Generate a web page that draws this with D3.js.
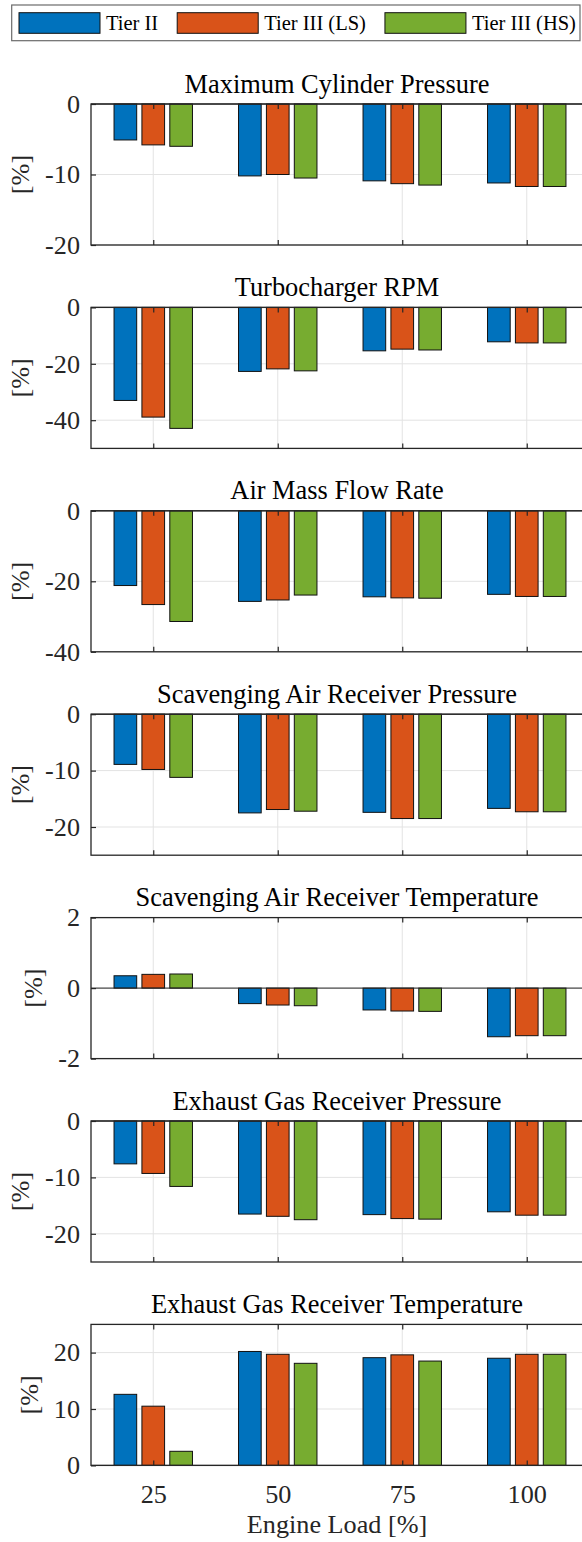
<!DOCTYPE html>
<html>
<head>
<meta charset="utf-8">
<script src="https://cdn.jsdelivr.net/npm/d3@7"></script>
<style>
  html, body { margin: 0; padding: 0; background: #fff; }
  svg { display: block; }
</style>
</head>
<body>
<svg id="chart" width="582" height="1542"></svg>
<script>
// ---------------- DATA ----------------
const engineLoads = [25, 50, 75, 100];
const seriesNames = ["Tier II", "Tier III (LS)", "Tier III (HS)"];
const seriesColors = ["#0072BD", "#D95319", "#77AC30"];
const panelTitles = [
  "Maximum Cylinder Pressure",
  "Turbocharger RPM",
  "Air Mass Flow Rate",
  "Scavenging Air Receiver Pressure",
  "Scavenging Air Receiver Temperature",
  "Exhaust Gas Receiver Pressure",
  "Exhaust Gas Receiver Temperature"
];
// each: [Tier II, Tier III (LS), Tier III (HS)] over engine loads 25,50,75,100
const maxCylinderPressure = [
  [-5.1, -10.2, -10.9, -11.2],
  [-5.8, -10.0, -11.3, -11.7],
  [-6.0, -10.5, -11.5, -11.7]
];
const turbochargerRPM = [
  [-33.0, -22.7, -15.4, -12.2],
  [-38.9, -21.8, -14.8, -12.6],
  [-42.9, -22.5, -15.1, -12.6]
];
const airMassFlowRate = [
  [-21.2, -25.7, -24.4, -23.7],
  [-26.6, -25.3, -24.7, -24.3],
  [-31.4, -23.9, -24.8, -24.3]
];
const scavAirPressure = [
  [-8.9, -17.5, -17.4, -16.7],
  [-9.8, -16.9, -18.5, -17.3],
  [-11.2, -17.2, -18.5, -17.3]
];
const scavAirTemperature = [
  [0.35, -0.44, -0.62, -1.38],
  [0.39, -0.48, -0.65, -1.35],
  [0.40, -0.50, -0.66, -1.35]
];
const exhaustGasPressure = [
  [-7.6, -16.5, -16.6, -16.1],
  [-9.3, -16.9, -17.3, -16.7],
  [-11.6, -17.5, -17.4, -16.7]
];
const exhaustGasTemperature = [
  [12.6, 20.2, 19.1, 19.0],
  [10.5, 19.7, 19.6, 19.7],
  [2.5, 18.1, 18.5, 19.7]
];
const yDomains = [[-20, 0], [-50, 0], [-40, 0], [-25, 0], [-2, 2], [-25, 0], [0, 25]];
const yTickValues = [
  [-20, -10, 0], [-40, -20, 0], [-40, -20, 0], [-20, -10, 0],
  [-2, 0, 2], [-20, -10, 0], [0, 10, 20]
];
const xDomain = [12.5, 112.5];
const xLabel = "Engine Load [%]";
const yLabel = "[%]";
const panelData = [maxCylinderPressure, turbochargerRPM, airMassFlowRate, scavAirPressure,
                   scavAirTemperature, exhaustGasPressure, exhaustGasTemperature];

// ---------------- LAYOUT ----------------
const FONT = '"Liberation Serif", "Times New Roman", Times, serif';
const svg = d3.select("#chart");
const axisColor = "#262626";
const gridColor = "#e3e3e3";
const left = 91, right = 589;
const top0 = 104, panelStep = 203.4, panelH = 141;
const groupOffset = 5.6, barW = 4.55;   // in data units
const tickFont = 26.2, titleFont = 26.4, labelFont = 26.2, legendFont = 20.5;
const centerX = 337;

const x = d3.scaleLinear().domain(xDomain).range([left, right]);

function txt(sel) { return sel.style("font-family", FONT); }

panelData.forEach((data, p) => {
  const top = top0 + p * panelStep;
  const bottom = top + panelH;
  const y = d3.scaleLinear().domain(yDomains[p]).range([bottom, top]);
  const g = svg.append("g");
  const isLast = p === panelData.length - 1;

  // grid
  g.append("g").selectAll("line").data(engineLoads).join("line")
    .attr("x1", d => x(d)).attr("x2", d => x(d)).attr("y1", top).attr("y2", bottom)
    .attr("stroke", gridColor).attr("stroke-width", 1);
  g.append("g").selectAll("line").data(yTickValues[p]).join("line")
    .attr("x1", left).attr("x2", right).attr("y1", d => y(d)).attr("y2", d => y(d))
    .attr("stroke", gridColor).attr("stroke-width", 1);

  // bars
  data.forEach((vals, s) => {
    g.append("g").selectAll("rect").data(vals).join("rect")
      .attr("x", (d, i) => x(engineLoads[i] + (s - 1) * groupOffset - barW / 2))
      .attr("width", x(xDomain[0] + barW) - x(xDomain[0]))
      .attr("y", d => y(Math.max(0, d)))
      .attr("height", d => Math.abs(y(d) - y(0)))
      .attr("fill", seriesColors[s])
      .attr("stroke", "#111").attr("stroke-width", 1);
  });

  // baseline
  g.append("line").attr("x1", left).attr("x2", right).attr("y1", y(0)).attr("y2", y(0))
    .attr("stroke", axisColor).attr("stroke-width", 1);

  // axes
  const yAxis = g.append("g").attr("transform", `translate(${left},0)`)
    .call(d3.axisLeft(y).tickValues(yTickValues[p]).tickSize(-5).tickSizeOuter(0)
      .tickPadding(11).tickFormat(d => String(d)));
  const xBottom = g.append("g").attr("transform", `translate(0,${bottom})`)
    .call(d3.axisBottom(x).tickValues(engineLoads).tickSize(-5).tickSizeOuter(0)
      .tickPadding(19.5).tickFormat(d => isLast ? String(d) : ""));
  const xTop = g.append("g").attr("transform", `translate(0,${top})`)
    .call(d3.axisTop(x).tickValues(engineLoads).tickSize(-5).tickSizeOuter(0)
      .tickFormat(""));
  [yAxis, xBottom, xTop].forEach(a => {
    a.attr("font-family", null).attr("font-size", null);
    a.select(".domain").remove();
    a.selectAll("line").attr("stroke", axisColor).attr("stroke-width", 1.2);
    txt(a.selectAll("text")).attr("font-size", tickFont).attr("fill", axisColor);
  });
  // frame
  g.append("rect").attr("x", left).attr("y", top).attr("width", right - left).attr("height", panelH)
    .attr("fill", "none").attr("stroke", axisColor).attr("stroke-width", 1.3);

  // title
  txt(g.append("text")).attr("x", centerX).attr("y", top - 11.5)
    .attr("text-anchor", "middle").attr("font-size", titleFont).attr("fill", "#000")
    .text(panelTitles[p]);

  // y label, placed left of widest tick label
  let minLeft = Infinity;
  yAxis.selectAll("text").each(function() {
    const b = this.getBoundingClientRect(); minLeft = Math.min(minLeft, b.left);
  });
  const yl = txt(g.append("text")).attr("text-anchor", "middle").attr("font-size", labelFont)
    .attr("fill", axisColor)
    .attr("transform", `translate(0,${(top + bottom) / 2}) rotate(-90)`).text(yLabel);
  const r = yl.node().getBoundingClientRect();
  yl.attr("transform", `translate(${minLeft - 10 - r.right},${(top + bottom) / 2}) rotate(-90)`);

  if (isLast) {
    txt(g.append("text")).attr("x", centerX).attr("y", 1533)
      .attr("text-anchor", "middle").attr("font-size", labelFont).attr("fill", axisColor)
      .text(xLabel);
  }
});

// ---------------- LEGEND ----------------
const lg = svg.append("g");
lg.append("rect").attr("x", 11.7).attr("y", 5).attr("width", 568.3).attr("height", 35.7)
  .attr("fill", "#fff").attr("stroke", "#6b6b6b").attr("stroke-width", 1.2);
let cx = 19;
seriesNames.forEach((name, i) => {
  lg.append("rect").attr("x", cx).attr("y", 12.7).attr("width", 81).attr("height", 20.6)
    .attr("fill", seriesColors[i]).attr("stroke", "#111").attr("stroke-width", 1);
  const t = txt(lg.append("text")).attr("x", cx + 87).attr("y", 29.5)
    .attr("font-size", legendFont).attr("fill", "#000").text(name);
  cx = cx + 87 + t.node().getComputedTextLength() + 19;
});
</script>
</body>
</html>
